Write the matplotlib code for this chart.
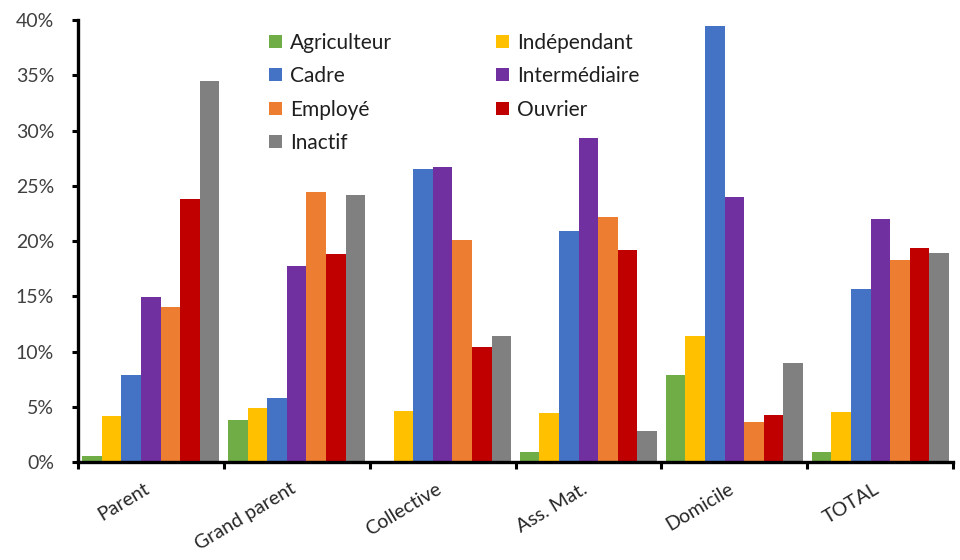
import numpy as np
import matplotlib.pyplot as plt
import matplotlib.ticker as mtick
from matplotlib.transforms import ScaledTranslation

plt.rcParams['font.family'] = ['Lato', 'DejaVu Sans']

# Répartition par mode de garde et catégorie socio-professionnelle (%)
modes = ['Parent', 'Grand parent', 'Collective', 'Ass. Mat.', 'Domicile', 'TOTAL']
agriculteur = [0.5, 3.8, 0.0, 0.9, 7.9, 0.9]
independant = [4.2, 4.9, 4.65, 4.4, 11.4, 4.5]
cadre = [7.9, 5.8, 26.5, 20.9, 39.5, 15.7]
intermediaire = [14.9, 17.7, 26.7, 29.3, 24.0, 22.0]
employe = [14.0, 24.4, 20.1, 22.2, 3.6, 18.3]
ouvrier = [23.8, 18.8, 10.45, 19.2, 4.3, 19.4]
inactif = [34.5, 24.2, 11.4, 2.8, 9.0, 18.9]

series = [
    ('Agriculteur', agriculteur, '#70AD47'),
    ('Indépendant', independant, '#FFC000'),
    ('Cadre', cadre, '#4472C4'),
    ('Intermédiaire', intermediaire, '#7030A0'),
    ('Employé', employe, '#ED7D31'),
    ('Ouvrier', ouvrier, '#C00000'),
    ('Inactif', inactif, '#808080'),
]

fig = plt.figure(figsize=(9.6, 5.6), dpi=100)
ax = fig.add_axes([0.081, 0.175, 0.912, 0.789])

x = np.arange(len(modes))
n = len(series)
width = 0.94 / n
bars = {}
for i, (name, vals, color) in enumerate(series):
    pos = x - 0.47 + width * (i + 0.5)
    bars[name] = ax.bar(pos, np.array(vals) / 100, width, color=color, label=name)

ax.set_xlim(-0.5, len(modes) - 0.5)
ax.set_ylim(0, 0.40)
ax.yaxis.set_major_locator(mtick.MultipleLocator(0.05))
ax.yaxis.set_major_formatter(mtick.PercentFormatter(1.0, decimals=0))

# ticks aux limites des groupes, libellés inclinés sous chaque groupe
ax.set_xticks(np.arange(len(modes) + 1) - 0.5)
ax.set_xticklabels([])
ax.tick_params(axis='x', length=5, width=2.2, direction='out')
offset = ScaledTranslation(-0.07, -0.18, fig.dpi_scale_trans)
for xi, mode in zip(x, modes):
    ax.text(xi, 0, mode, transform=ax.get_xaxis_transform() + offset,
            rotation=31, ha='right', va='top', rotation_mode='anchor',
            fontsize=14, color='#262626')

ax.tick_params(axis='y', length=4.5, width=2.2, direction='out',
               labelsize=14, labelcolor='#404040', pad=12.5)

for side in ['top', 'right']:
    ax.spines[side].set_visible(False)
for side in ['left', 'bottom']:
    ax.spines[side].set_linewidth(2.4)
    ax.spines[side].set_color('black')

order = ['Agriculteur', 'Cadre', 'Employé', 'Inactif',
         'Indépendant', 'Intermédiaire', 'Ouvrier']
ax.legend([bars[k] for k in order], order, ncol=2, loc='upper left',
          bbox_to_anchor=(0.219, 0.972), frameon=False, fontsize=15,
          handlelength=0.6, handleheight=0.6, handletextpad=0.4,
          columnspacing=5.0, labelspacing=0.65, borderaxespad=0,
          borderpad=0, labelcolor='#1f1f1f')

fig.savefig('out.png', dpi=100)
